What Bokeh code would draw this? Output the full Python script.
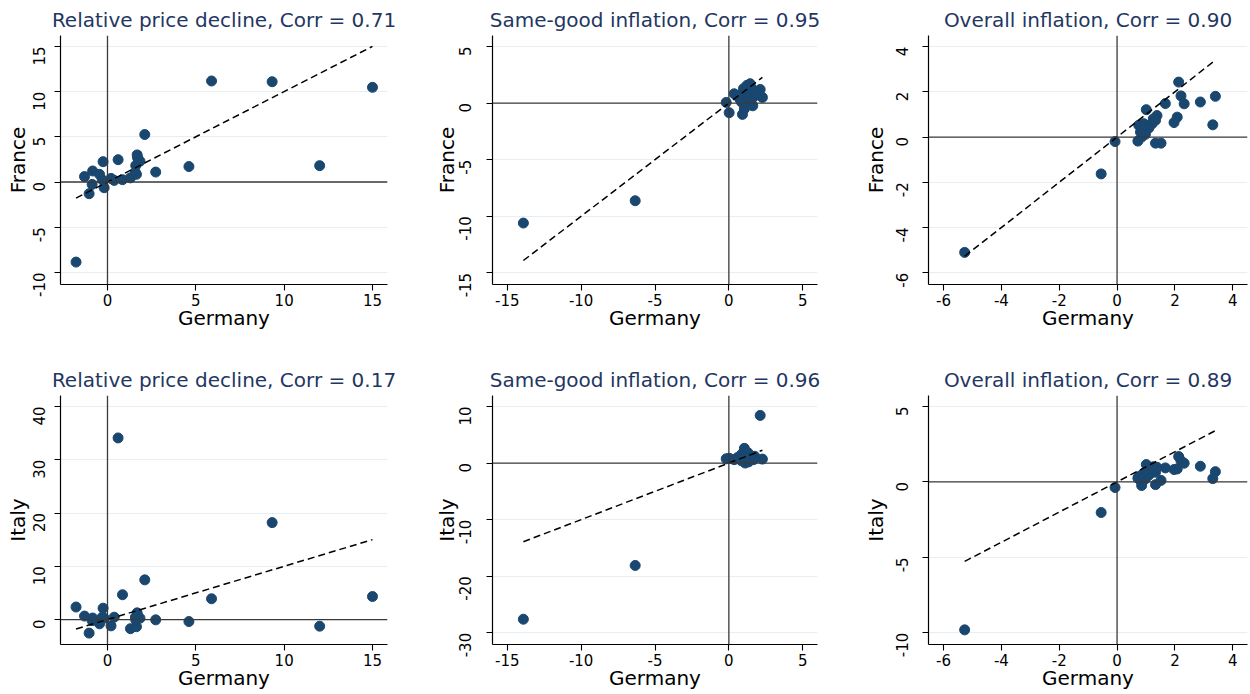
import math
from bokeh.plotting import figure
from bokeh.layouts import column, row
from bokeh.models import Range1d, Span, FixedTicker
from bokeh.embed import file_html
from bokeh.resources import INLINE

# ---------------- data ----------------
rel_de = [-1.78, -1.30, -1.04, -0.84, -0.87, -0.45, -0.25, -0.30, -0.19, 0.20, 0.38, 0.60, 0.85, 1.30,
          1.58, 1.64, 1.60, 1.68, 1.70, 1.84, 2.11, 2.73, 4.61, 5.89, 9.32, 12.01, 15.0]
rel_fr = [-8.85, 0.60, -1.29, 1.22, -0.26, 0.85, 2.25, 0.26, -0.63, 0.40, 0.18, 2.47, 0.26, 0.46,
          1.04, 0.85, 1.82, 3.00, 2.70, 2.30, 5.25, 1.10, 1.71, 11.17, 11.09, 1.81, 10.47]
rel_it = [2.35, 0.65, -2.55, 0.28, -0.20, -0.81, 2.13, 0.44, 0.25, -1.19, 0.44, 34.1, 4.65, -1.72,
          0.44, -1.35, -0.06, 1.25, 0.60, 0.25, 7.45, -0.06, -0.38, 3.90, 18.2, -1.25, 4.32]

sg_de = [-13.91, -6.34, -0.18, 0.02, 0.36, 0.92, 1.05, 1.62, 2.12, 2.27, 0.88, 0.99, 1.22, 1.44,
         1.33, 0.99, 1.44, 1.67, 0.77, 1.10, 1.30, 1.15, 1.55, 0.60, 1.38, 1.75, 0.85]
sg_fr = [-10.6, -8.63, 0.06, -0.85, 0.82, -1.00, -0.52, -0.24, 1.20, 0.50, 0.82, 1.27, 1.56, 1.71,
         1.12, 0.38, 0.38, 0.53, 0.29, 0.09, 1.45, 0.90, 1.30, 0.60, 0.70, 0.80, 0.10]
sg_it = [-27.6, -18.1, 0.75, 0.85, 0.60, 0.50, 2.60, 0.90, 8.42, 0.70, 1.60, 1.40, 1.20, 0.50,
         0.20, 0.80, 0.60, 0.60, 0.80, 0.00, 1.80, 0.30, 1.10, 1.00, 0.90, 1.20, 0.40]

ov_de = [-5.27, -0.55, -0.07, 2.13, 2.21, 1.67, 2.32, 2.88, 3.40, 3.31, 1.01, 1.38, 1.33, 1.21,
         2.08, 1.97, 0.75, 0.92, 0.81, 0.98, 0.85, 0.72, 1.33, 1.52, 1.10, 1.25, 0.90]
ov_fr = [-5.10, -1.63, -0.20, 2.43, 1.82, 1.48, 1.47, 1.55, 1.80, 0.54, 1.21, 0.95, 0.74, 0.59,
         0.88, 0.64, 0.52, 0.59, 0.22, 0.12, 0.00, -0.18, -0.27, -0.27, 0.40, 0.80, 0.35]
ov_it = [-9.81, -2.03, -0.37, 1.68, 1.40, 0.93, 1.24, 1.04, 0.68, 0.22, 1.15, 0.97, 0.64, 0.75,
         0.86, 0.82, 0.35, 0.49, 0.09, 0.20, -0.24, 0.25, -0.18, 0.10, 0.45, 1.00, 0.55]

titles_fr = ["Relative price decline, Corr = 0.71", "Same-good inflation, Corr = 0.95",
             "Overall inflation, Corr = 0.90"]
titles_it = ["Relative price decline, Corr = 0.17", "Same-good inflation, Corr = 0.96",
             "Overall inflation, Corr = 0.89"]

x_label = "Germany"
y_labels = ["France", "Italy"]

xticks = [[0, 5, 10, 15], [-15, -10, -5, 0, 5], [-6, -4, -2, 0, 2, 4]]
yticks_fr = [[-10, -5, 0, 5, 10, 15], [-15, -10, -5, 0, 5], [-6, -4, -2, 0, 2, 4]]
yticks_it = [[0, 10, 20, 30, 40], [-30, -20, -10, 0, 10], [-10, -5, 0, 5]]

# ---------------- style / layout ----------------
FONT = "DejaVu Sans"
TITLE_COLOR = "#1f3762"
MARK = "#1a476f"
GRID = "#e6eef1"

x_ranges = [(-2.66, 15.85), (-16.0, 6.0), (-6.52, 4.51)]
y_ranges_fr = [(-11.33, 16.2), (-16.03, 5.97), (-6.52, 4.49)]
y_ranges_it = [(-4.69, 42.07), (-32.07, 11.94), (-10.78, 5.73)]

col_w = [420, 420, 409]
col_bl = [60, 72, 88]
col_br = [33, 23, 2]
row_h = [347, 346]
row_bt = [35, 48]
row_bb = [63, 49]
tick_so = [15, 21, 20]
lab_so = [-5, -8, 0]


def make_panel(xs, ys, title, ylab, xr, yr, xt, yt, c, r):
    p = figure(width=col_w[c], height=row_h[r],
               x_range=Range1d(*xr), y_range=Range1d(*yr),
               output_backend="svg", toolbar_location=None,
               min_border_left=col_bl[c], min_border_right=col_br[c],
               min_border_top=row_bt[r], min_border_bottom=row_bb[r],
               title=title)
    p.outline_line_color = None
    p.background_fill_color = "white"
    p.border_fill_color = "white"
    p.title.align = "center"
    p.title.text_font = FONT
    p.title.text_font_size = "20px"
    p.title.text_font_style = "normal"
    p.title.text_color = TITLE_COLOR
    p.title.standoff = 7

    for ax in (p.xaxis[0], p.yaxis[0]):
        ax.axis_line_color = "black"
        ax.axis_line_width = 1.2
        ax.major_tick_line_color = "black"
        ax.major_tick_line_width = 1.1
        ax.major_tick_out = 6
        ax.major_tick_in = 0
        ax.minor_tick_line_color = None
        ax.major_label_text_font = FONT
        ax.major_label_text_font_size = "15px"
        ax.major_label_text_color = "black"
        ax.axis_label_text_font = FONT
        ax.axis_label_text_font_size = "20px"
        ax.axis_label_text_font_style = "normal"
        ax.axis_label_text_color = "black"

    p.xaxis.ticker = FixedTicker(ticks=xt)
    p.yaxis.ticker = FixedTicker(ticks=yt)
    p.xaxis.major_label_overrides = {t: str(t) for t in xt}
    p.yaxis.major_label_overrides = {t: str(t) for t in yt}
    p.xaxis.axis_label = x_label
    p.yaxis.axis_label = ylab
    p.xaxis.major_label_standoff = 3
    p.xaxis.axis_label_standoff = -3
    p.yaxis.major_label_orientation = math.pi / 2
    p.yaxis.major_label_standoff = tick_so[c]
    p.yaxis.axis_label_standoff = lab_so[c]

    p.xgrid.visible = False
    p.ygrid.ticker = FixedTicker(ticks=yt)
    p.ygrid.grid_line_color = GRID
    p.ygrid.grid_line_width = 1.2

    p.add_layout(Span(location=0, dimension="width", line_color="#3a3a3a", line_width=1.3))
    p.add_layout(Span(location=0, dimension="height", line_color="#3a3a3a", line_width=1.3))

    p.scatter(xs, ys, size=10, fill_color=MARK, line_color=MARK)
    lo, hi = min(xs), max(xs)
    p.line([lo, hi], [lo, hi], line_color="black", line_width=1.5, line_dash="7 4")
    return p


series = [(rel_de, rel_fr, rel_it), (sg_de, sg_fr, sg_it), (ov_de, ov_fr, ov_it)]
top, bottom = [], []
for c, (de, fr, it) in enumerate(series):
    top.append(make_panel(de, fr, titles_fr[c], y_labels[0], x_ranges[c], y_ranges_fr[c],
                          xticks[c], yticks_fr[c], c, 0))
    bottom.append(make_panel(de, it, titles_it[c], y_labels[1], x_ranges[c], y_ranges_it[c],
                             xticks[c], yticks_it[c], c, 1))

layout = column(row(*top, spacing=0), row(*bottom, spacing=0), spacing=0)
open("out.html", "w").write(file_html(layout, INLINE))
